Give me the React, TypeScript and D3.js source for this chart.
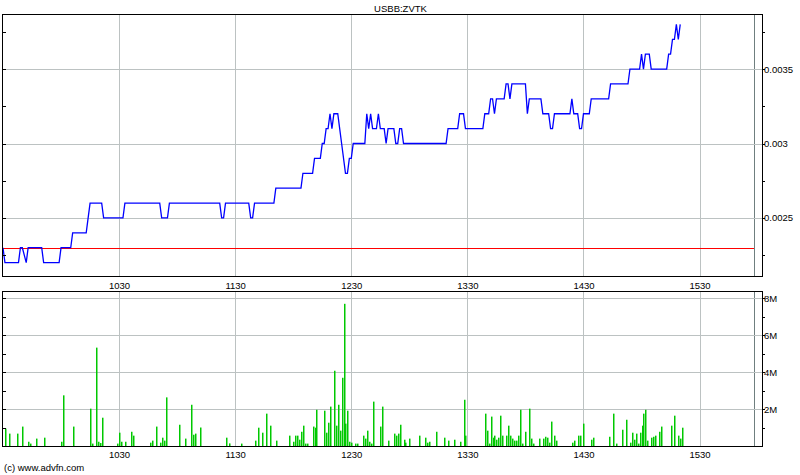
import React, { useEffect, useRef } from "react";
import * as d3 from "d3";

const title = "USBB:ZVTK";
const credit = "(c) www.advfn.com";

// minutes after the 09:30 open
const sessionLength = 392;
const closeMark = 388;
const hourTicks = [60, 120, 180, 240, 300, 360];
const hourLabels = ["1030", "1130", "1230", "1330", "1430", "1530"];

const refPrice = 0.0023;
const priceTicks = [0.0025, 0.003, 0.0035];
const priceTickLabels = ["0.0025", "0.003", "0.0035"];
const priceMinor = [0.00225, 0.00275, 0.00325, 0.00375];

const volTicks = [2, 4, 6, 8];
const volTickLabels = ["2M", "4M", "6M", "8M"];
const volMinor = [1, 3, 5, 7];

// [minute, price]
const prices: [number, number][] = [
  [0, 0.0023], [1, 0.0022], [8, 0.0022], [9, 0.0023], [10, 0.0023], [12, 0.0022], [13, 0.0023],
  [20, 0.0023], [21, 0.0022], [29, 0.0022], [30, 0.0023], [35, 0.0023], [36, 0.0024], [43, 0.0024],
  [44, 0.0025], [45, 0.0026], [51, 0.0026], [52, 0.0025], [62, 0.0025], [63, 0.0026], [81, 0.0026],
  [82, 0.0025], [85, 0.0025], [86, 0.0026], [112, 0.0026], [113, 0.0025], [114, 0.0025], [115, 0.0026],
  [127, 0.0026], [128, 0.0025], [129, 0.0025], [130, 0.0026], [140, 0.0026], [141, 0.0027],
  [154, 0.0027], [155, 0.0028], [160, 0.0028], [161, 0.0029], [164, 0.0029], [165, 0.003],
  [166, 0.003], [167, 0.0031], [168, 0.0031], [169, 0.0032], [170, 0.0031], [171, 0.0032],
  [173, 0.0032], [175, 0.003], [177, 0.0028], [178, 0.0028], [179, 0.0029], [180, 0.0029],
  [181, 0.003], [187, 0.003], [188, 0.0032], [189, 0.0031], [190, 0.0032], [191, 0.0031],
  [193, 0.0031], [194, 0.0032], [195, 0.0031], [197, 0.0031], [198, 0.003], [199, 0.0031],
  [202, 0.0031], [203, 0.003], [204, 0.003], [205, 0.0031], [206, 0.0031], [207, 0.003],
  [229, 0.003], [230, 0.0031], [235, 0.0031], [236, 0.0032], [238, 0.0032], [239, 0.0031],
  [248, 0.0031], [249, 0.0032], [251, 0.0032], [252, 0.0033], [253, 0.0033], [254, 0.0032],
  [255, 0.0033], [259, 0.0033], [260, 0.0034], [261, 0.0034], [262, 0.0033], [263, 0.0034],
  [270, 0.0034], [271, 0.0032], [272, 0.0033], [278, 0.0033], [279, 0.0032], [282, 0.0032],
  [283, 0.0031], [284, 0.0031], [285, 0.0032], [293, 0.0032], [294, 0.0033], [295, 0.0032],
  [297, 0.0032], [298, 0.0031], [299, 0.0031], [300, 0.0032], [303, 0.0032], [304, 0.0033],
  [313, 0.0033], [314, 0.0034], [323, 0.0034], [324, 0.0035], [329, 0.0035], [330, 0.0036],
  [331, 0.0035], [332, 0.0036], [334, 0.0036], [335, 0.0035], [343, 0.0035], [344, 0.0036],
  [345, 0.0036], [346, 0.0037], [347, 0.0037], [348, 0.0038], [349, 0.0037], [350, 0.0038],
];

// [minute, volume in millions]
const volumes: [number, number][] = [
  [1, 0.94], [3, 0.67], [7, 0.67], [10, 1.05], [13, 0.23], [14, 0.13], [17, 0.4], [21, 0.45],
  [30, 0.23], [31, 2.74], [36, 1.05], [45, 2.02], [46, 0.13], [48, 5.32], [49, 0.23], [50, 0.16],
  [51, 1.53], [59, 0.13], [60, 0.72], [61, 0.23], [63, 0.23], [66, 0.77], [67, 0.56], [76, 0.18],
  [77, 0.29], [79, 1.05], [81, 0.18], [82, 0.45], [83, 0.29], [84, 2.63], [91, 1.15], [94, 0.4],
  [97, 2.23], [98, 0.61], [99, 0.67], [102, 1.0], [115, 0.45], [117, 0.14], [123, 0.13], [130, 0.29],
  [132, 0.99], [134, 0.72], [136, 1.75], [138, 1.1], [141, 0.29], [148, 0.56], [150, 0.23], [151, 0.56],
  [152, 0.56], [153, 0.34], [154, 0.77], [155, 1.1], [156, 0.13], [157, 0.13], [160, 1.05], [161, 0.99],
  [162, 1.96], [166, 1.91], [167, 0.72], [168, 1.26], [169, 2.13], [171, 4.07], [172, 1.1], [173, 2.23],
  [174, 0.83], [175, 3.69], [176, 7.69], [177, 1.21], [178, 1.91], [179, 0.23], [180, 0.18], [182, 0.13],
  [183, 0.13], [186, 0.56], [187, 0.4], [188, 0.83], [189, 0.23], [190, 0.13], [191, 2.4], [195, 1.05],
  [196, 2.13], [199, 0.29], [202, 0.67], [203, 0.56], [204, 0.67], [205, 1.15], [207, 0.34], [208, 0.18],
  [210, 0.4], [215, 0.56], [218, 0.45], [219, 0.18], [220, 0.23], [224, 0.77], [228, 0.45], [230, 0.29],
  [233, 0.34], [236, 0.23], [238, 2.5], [239, 0.56], [249, 1.75], [250, 0.83], [251, 0.13], [252, 1.59],
  [253, 0.45], [254, 0.56], [255, 0.34], [256, 0.45], [257, 1.64], [258, 0.56], [260, 0.56], [261, 1.1],
  [262, 0.56], [263, 0.4], [264, 0.29], [265, 0.29], [266, 0.56], [267, 1.96], [268, 0.13], [270, 0.77],
  [272, 2.02], [273, 0.4], [274, 0.13], [277, 0.4], [279, 0.4], [280, 0.5], [281, 0.45], [282, 0.18],
  [283, 1.32], [285, 0.56], [286, 0.29], [294, 0.18], [295, 0.29], [297, 0.56], [298, 0.56], [300, 1.21],
  [304, 0.34], [305, 0.45], [313, 0.5], [315, 1.75], [317, 0.13], [320, 0.88], [322, 1.42], [324, 0.18],
  [325, 0.72], [326, 0.34], [327, 0.67], [328, 0.13], [329, 0.72], [330, 1.1], [331, 1.75], [332, 1.96],
  [333, 0.29], [335, 0.45], [336, 0.5], [337, 0.56], [339, 0.77], [340, 1.05], [345, 1.1], [347, 1.64],
  [349, 0.56], [350, 0.4], [351, 0.99],
];

const App: React.FC = (): JSX.Element => {
  const ref = useRef<SVGSVGElement>(null);

  useEffect(() => {
    const width = 800, height = 475;
    const left = 2.5, right = 762;
    const top1 = 14, bottom1 = 276;
    const top2 = 290.5, bottom2 = 446;
    const font = "'Liberation Sans', Arial, sans-serif";
    const gridColor = "#bcc2c2";

    const svg = d3.select(ref.current)
      .attr("width", width)
      .attr("height", height)
      .attr("viewBox", `0 0 ${width} ${height}`);
    svg.selectAll("*").remove();

    const x = d3.scaleLinear().domain([0, sessionLength]).range([3, 761.5]);
    const yP = d3.scaleLinear().domain([0.00211, 0.00387]).range([bottom1, top1]);
    const yV = d3.scaleLinear().domain([0, 8.41]).range([bottom2, top2]);

    svg.append("rect").attr("width", width).attr("height", height).attr("fill", "#fff");

    const panel = (top: number, bottom: number) => {
      const g = svg.append("g").attr("shape-rendering", "crispEdges");
      g.selectAll(".vgrid")
        .data(hourTicks)
        .enter().append("line")
        .attr("x1", d => Math.round(x(d)) + 0.5)
        .attr("x2", d => Math.round(x(d)) + 0.5)
        .attr("y1", top)
        .attr("y2", bottom)
        .attr("stroke", gridColor);
      g.append("line")
        .attr("x1", Math.round(x(closeMark)) + 0.5)
        .attr("x2", Math.round(x(closeMark)) + 0.5)
        .attr("y1", top)
        .attr("y2", bottom)
        .attr("stroke", "#6f7f7f")
        .attr("stroke-width", 1.5);
      return g;
    };

    // ---- price panel
    const g1 = panel(top1, bottom1);
    g1.selectAll(".hgrid")
      .data(priceTicks)
      .enter().append("line")
      .attr("x1", left).attr("x2", right)
      .attr("y1", d => Math.round(yP(d)) + 0.5)
      .attr("y2", d => Math.round(yP(d)) + 0.5)
      .attr("stroke", gridColor);

    svg.append("line")
      .attr("x1", left)
      .attr("x2", x(closeMark))
      .attr("y1", Math.round(yP(refPrice)) + 0.5)
      .attr("y2", Math.round(yP(refPrice)) + 0.5)
      .attr("stroke", "#ff0000")
      .attr("shape-rendering", "crispEdges");

    const line = d3.line<[number, number]>()
      .x(d => x(d[0]))
      .y(d => yP(d[1]));
    svg.append("path")
      .datum(prices)
      .attr("d", line)
      .attr("fill", "none")
      .attr("stroke", "#0000ff")
      .attr("stroke-width", 1.3);

    // ---- volume panel
    const g2 = panel(top2, bottom2);
    g2.selectAll(".hgrid")
      .data(volTicks)
      .enter().append("line")
      .attr("x1", left).attr("x2", right)
      .attr("y1", d => Math.round(yV(d)) + 0.5)
      .attr("y2", d => Math.round(yV(d)) + 0.5)
      .attr("stroke", gridColor);

    svg.selectAll(".bar")
      .data(volumes)
      .enter().append("rect")
      .attr("class", "bar")
      .attr("x", d => Math.round(x(d[0])))
      .attr("width", 1.5)
      .attr("y", d => yV(d[1]))
      .attr("height", d => bottom2 - yV(d[1]))
      .attr("fill", "#00c800");

    // ---- frames and ticks
    const frames = svg.append("g").attr("shape-rendering", "crispEdges");
    [[top1, bottom1], [top2, bottom2]].forEach(([t, b]) => {
      frames.append("rect")
        .attr("x", left)
        .attr("y", t + 0.5)
        .attr("width", right - left)
        .attr("height", b - t)
        .attr("fill", "none")
        .attr("stroke", "#000");
    });

    const tick = (ys: number[]) => {
      ys.forEach(yy => {
        const yr = Math.round(yy) + 0.5;
        frames.append("line").attr("x1", left).attr("x2", left + 3).attr("y1", yr).attr("y2", yr).attr("stroke", "#000");
        frames.append("line").attr("x1", right).attr("x2", right + 3).attr("y1", yr).attr("y2", yr).attr("stroke", "#000");
      });
    };
    tick([...priceTicks, ...priceMinor].map(d => yP(d)));
    tick([...volTicks, ...volMinor].map(d => yV(d)));

    // ---- texts
    const text = svg.append("g")
      .style("font-family", font)
      .style("font-size", "9.5px")
      .attr("fill", "#000");

    text.append("text")
      .attr("x", 400.5)
      .attr("y", 11.5)
      .attr("text-anchor", "middle")
      .text(title);

    [bottom1 + 12.5, bottom2 + 11.5].forEach(yy => {
      text.selectAll(null)
        .data(hourTicks)
        .enter().append("text")
        .attr("x", d => x(d) + 0.5)
        .attr("y", yy)
        .attr("text-anchor", "middle")
        .text((d, i) => hourLabels[i]);
    });

    text.selectAll(null)
      .data(priceTicks)
      .enter().append("text")
      .attr("x", 764)
      .attr("y", d => yP(d) + 3.5)
      .text((d, i) => priceTickLabels[i]);

    text.selectAll(null)
      .data(volTicks)
      .enter().append("text")
      .attr("x", 764)
      .attr("y", d => yV(d) + 3.5)
      .text((d, i) => volTickLabels[i]);

    text.append("text")
      .attr("x", 4)
      .attr("y", 471)
      .text(credit);
  }, []);

  return (
    <div style={{ position: "absolute", left: 0, top: 0 }}>
      <svg ref={ref} style={{ display: "block" }}></svg>
    </div>
  );
};

export default App;
